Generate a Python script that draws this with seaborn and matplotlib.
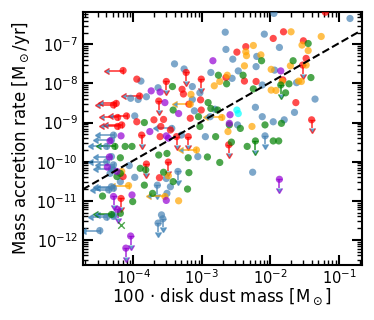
import numpy as np
import pandas as pd
import matplotlib
matplotlib.use("Agg")
import matplotlib.pyplot as plt
import seaborn as sns

# ---- values (log10 of disk mass*100 [Msun], log10 of Macc [Msun/yr]) ----
# detections
blue_lx = [-1.95, -0.84, -2.66, -2.09, -1.87, -2.65, -2.55, -2.20, -3.40, -3.26, -2.87, -1.94, -2.47,
           -2.21, -2.56, -2.12, -1.62, -3.89, -3.64, -3.14, -3.03, -3.81, -4.04, -3.93, -3.14, -3.11,
           -2.81, -2.88, -3.98, -2.22, -2.12, -1.65, -1.80, -1.96, -1.35, -2.95, -3.30, -3.06, -2.26,
           -4.06, -4.29, -4.34, -3.98, -3.52, -3.46, -4.29, -3.59, -4.19, -3.51, -2.48]
blue_ly = [-6.21, -6.34, -6.69, -6.74, -7.08, -7.13, -7.38, -7.31, -7.50, -7.63, -7.72, -7.66, -7.68,
           -7.57, -7.87, -8.04, -7.98, -7.94, -8.11, -8.08, -8.24, -8.34, -8.38, -8.41, -8.41, -8.70,
           -8.66, -8.85, -8.83, -8.61, -8.85, -8.74, -8.93, -8.98, -8.40, -9.36, -9.32, -9.87, -10.27,
           -10.10, -10.21, -10.30, -10.40, -10.43, -10.64, -11.40, -11.36, -10.51, -10.81, -9.06]
red_lx = [-1.20, -1.81, -1.96, -1.52, -2.36, -2.49, -1.48, -3.95, -2.65, -2.38, -2.21, -1.82, -3.29,
          -3.27, -3.02, -3.19, -3.01, -3.17, -3.70, -3.95, -3.60, -3.46, -1.63, -4.15, -3.62, -3.61, -3.56]
red_ly = [-6.18, -6.68, -6.85, -6.91, -7.06, -7.20, -7.36, -7.89, -7.85, -7.94, -7.95, -7.91, -8.15,
          -8.27, -8.42, -8.53, -8.68, -8.89, -8.93, -8.98, -9.10, -9.19, -8.49, -10.38, -10.41, -9.36, -8.92]
orange_lx = [-1.70, -1.26, -1.54, -2.25, -2.36, -2.35, -2.14, -1.45, -2.38, -1.99, -1.71, -1.48, -2.63,
             -2.74, -2.82, -1.59, -1.55, -1.83, -1.92, -1.99, -3.16, -2.27, -3.49, -3.34, -4.17, -2.62]
orange_ly = [-6.68, -6.80, -7.02, -7.03, -7.19, -7.29, -7.27, -7.16, -7.55, -7.64, -7.55, -7.53, -7.79,
             -7.95, -8.06, -7.94, -7.95, -7.95, -8.18, -8.17, -8.28, -9.10, -10.36, -11.00, -10.25, -9.23]
green_lx = [-1.45, -2.13, -1.67, -1.41, -2.40, -2.64, -2.25, -1.73, -1.78, -3.43, -2.91, -2.87, -2.77,
            -3.42, -3.84, -3.05, -3.03, -2.60, -2.44, -2.08, -1.84, -2.80, -1.96, -1.88, -2.57, -2.34,
            -2.74, -3.20, -2.92, -3.19, -3.21, -4.12, -4.02, -4.19, -3.90, -3.82, -3.63, -3.51, -3.56,
            -4.19, -4.24, -3.42, -3.84, -3.72, -4.45, -4.01, -4.19, -2.76]
green_ly = [-6.98, -7.42, -7.42, -7.85, -7.79, -8.01, -8.14, -8.01, -8.24, -8.08, -8.49, -8.64, -8.68,
            -8.68, -9.00, -8.85, -9.10, -9.06, -9.15, -9.06, -9.02, -9.36, -9.47, -9.47, -9.50, -9.61,
            -10.02, -9.90, -9.88, -10.28, -10.70, -9.61, -9.61, -9.90, -10.17, -10.21, -9.83, -9.79, -10.27,
            -10.30, -10.38, -10.51, -10.60, -10.81, -10.88, -11.02, -11.32, -7.79]
purple_lx = [-2.84, -1.85, -3.74, -3.61, -3.54, -3.34, -2.60, -3.76, -3.52, -4.18, -3.49, -4.34, -4.35,
             -4.38, -4.24, -4.02, -3.52, -2.59]
purple_ly = [-7.42, -7.68, -8.19, -8.22, -8.49, -8.77, -9.02, -9.23, -9.34, -9.34, -9.40, -9.47, -9.88,
             -10.14, -10.25, -10.85, -10.99, -8.80]
cyan_lx = [-2.49, -2.47]
cyan_ly = [-8.68, -8.77]

# upper limits on accretion rate (arrow down)
blue_dn_lx = [-2.08, -3.35, -3.65, -3.57, -3.64]
blue_dn_ly = [-9.34, -10.25, -10.60, -11.46, -11.57]
red_dn_lx = [-3.23, -3.01, -3.52, -3.63, -1.53, -1.40, -3.88, -3.37, -3.20, -3.81, -3.49, -2.61, -4.18]
red_dn_ly = [-7.72, -7.89, -7.95, -8.45, -7.53, -8.93, -9.32, -9.36, -9.36, -10.06, -10.01, -9.57, -10.94]
green_dn_lx = [-1.85, -2.22]
green_dn_ly = [-8.04, -9.47]
purple_dn_lx = [-1.87, -4.29, -4.04, -4.11, -4.23]
purple_dn_ly = [-10.45, -10.89, -11.90, -12.21, -11.22]

# upper limits on disk mass (arrow left)
blue_lf_lx = [-4.49, -4.29, -4.32, -4.39, -4.32, -4.39, -4.29, -4.32, -4.32, -4.36, -4.29, -4.29, -4.39, -3.44]
blue_lf_ly = [-11.76, -9.32, -9.45, -9.61, -9.87, -10.00, -10.08, -10.19, -10.64, -10.72, -10.68, -11.36,
              -11.42, -9.15]
red_lf_lx = [-4.15, -3.91, -4.25, -4.29, -4.10, -4.23, -4.17, -4.23]
red_lf_ly = [-7.67, -8.32, -8.51, -8.55, -8.83, -8.87, -9.06, -9.10]
orange_lf_lx = [-3.17, -3.08, -4.07, -3.54, -2.71]
orange_lf_ly = [-8.53, -9.70, -10.61, -10.89, -8.87]
green_lf_lx = [-4.27, -4.32]
green_lf_ly = [-9.61, -11.35]

# single cross marker
green_x_lx = [-4.18]
green_x_ly = [-11.63]

# dashed relation: log Macc = slope * log Mdisk + intercept
line_slope = 1.0
line_intercept = -5.97

x_ticks = [1e-4, 1e-3, 1e-2, 1e-1]
y_ticks = [1e-12, 1e-11, 1e-10, 1e-9, 1e-8, 1e-7]

palette = {"blue": "steelblue", "red": "red", "orange": "orange",
           "green": "green", "purple": "darkviolet", "cyan": "cyan"}

# ---- assemble ----
groups = {
    "blue": [(blue_lx, blue_ly), (blue_dn_lx, blue_dn_ly), (blue_lf_lx, blue_lf_ly)],
    "red": [(red_lx, red_ly), (red_dn_lx, red_dn_ly), (red_lf_lx, red_lf_ly)],
    "orange": [(orange_lx, orange_ly), (orange_lf_lx, orange_lf_ly)],
    "green": [(green_lx, green_ly), (green_dn_lx, green_dn_ly), (green_lf_lx, green_lf_ly)],
    "purple": [(purple_lx, purple_ly), (purple_dn_lx, purple_dn_ly)],
    "cyan": [(cyan_lx, cyan_ly)],
}
rows = []
for g, lst in groups.items():
    for lx, ly in lst:
        for a, b in zip(lx, ly):
            rows.append({"mdisk": 10.0 ** a, "macc": 10.0 ** b, "grp": g})
df = pd.DataFrame(rows)

sns.set_style("ticks")
plt.rcParams.update({
    "font.family": ["DejaVu Sans"],
    "text.color": "black", "axes.labelcolor": "black",
    "xtick.labelcolor": "black", "ytick.labelcolor": "black",
    "xtick.direction": "in", "ytick.direction": "in",
    "xtick.top": True, "ytick.right": True,
    "xtick.major.size": 7, "ytick.major.size": 7,
    "xtick.minor.size": 3.5, "ytick.minor.size": 3.5,
    "xtick.major.width": 1.5, "ytick.major.width": 1.5,
    "xtick.minor.width": 1.0, "ytick.minor.width": 1.0,
    "axes.linewidth": 1.5,
    "axes.edgecolor": "black",
    "xtick.color": "black", "ytick.color": "black",
})

fig = plt.figure(figsize=(3.74, 3.2), dpi=100)
ax = fig.add_axes([0.221, 0.172, 0.746, 0.791])
ax.set_xscale("log")
ax.set_yscale("log")

alpha = 0.7
dn_len = 0.22
lf_len = 0.2

def down_arrows(lx, ly, color):
    x = 10.0 ** np.array(lx)
    y = 10.0 ** np.array(ly)
    ax.errorbar(x, y, yerr=y * (1 - 10 ** -dn_len), uplims=True, fmt="none",
                ecolor=color, alpha=alpha, elinewidth=1.3, capsize=2.5, zorder=2)

def left_arrows(lx, ly, color):
    x = 10.0 ** np.array(lx)
    y = 10.0 ** np.array(ly)
    ax.errorbar(x, y, xerr=x * (1 - 10 ** -lf_len), xuplims=True, fmt="none",
                ecolor=color, alpha=alpha, elinewidth=1.3, capsize=2.5, zorder=2)

down_arrows(blue_dn_lx, blue_dn_ly, palette["blue"])
down_arrows(red_dn_lx, red_dn_ly, palette["red"])
down_arrows(green_dn_lx, green_dn_ly, palette["green"])
down_arrows(purple_dn_lx, purple_dn_ly, palette["purple"])
left_arrows(blue_lf_lx, blue_lf_ly, palette["blue"])
left_arrows(red_lf_lx, red_lf_ly, palette["red"])
left_arrows(orange_lf_lx, orange_lf_ly, palette["orange"])
left_arrows(green_lf_lx, green_lf_ly, palette["green"])

sns.scatterplot(data=df, x="mdisk", y="macc", hue="grp", palette=palette, s=27,
                alpha=alpha, linewidth=0, legend=False, ax=ax, zorder=3)
ax.scatter(10.0 ** np.array(green_x_lx), 10.0 ** np.array(green_x_ly), marker="x",
           color=palette["green"], alpha=alpha, s=22, linewidth=1.0, zorder=3)

xlim = (10 ** -4.74, 10 ** -0.67)
ylim = (10 ** -12.64, 10 ** -6.17)
xx = np.array(xlim)
ax.plot(xx, 10 ** line_intercept * xx ** line_slope, color="black", ls="--", lw=1.5, zorder=4)
ax.set_xticks(x_ticks)
ax.set_yticks(y_ticks)
ax.set_xlim(*xlim)
ax.set_ylim(*ylim)

ax.set_xlabel("100 · disk dust mass [M$_\\odot$]", fontsize=12, labelpad=0)
ax.set_ylabel("Mass accretion rate [M$_\\odot$/yr]", fontsize=12, labelpad=3)
ax.tick_params(axis="both", which="major", labelsize=10.5)
ax.tick_params(axis="x", which="major", pad=2.5)
ax.tick_params(axis="both", which="both", top=True, right=True)

fig.savefig("out.png", dpi=100)
